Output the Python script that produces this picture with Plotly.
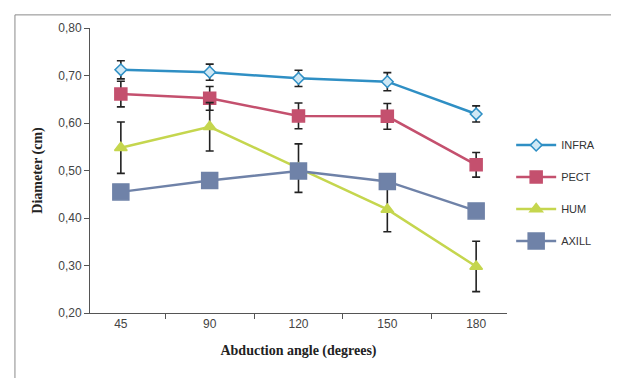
import plotly.graph_objects as go

angles = ["45", "90", "120", "150", "180"]
infra = [0.712, 0.707, 0.694, 0.687, 0.619]
infra_err = [0.019, 0.017, 0.017, 0.019, 0.017]
pect = [0.661, 0.652, 0.615, 0.614, 0.512]
pect_err = [0.027, 0.025, 0.027, 0.027, 0.026]
hum = [0.548, 0.592, 0.505, 0.418, 0.298]
hum_err = [0.054, 0.051, 0.051, 0.047, 0.053]
axill = [0.455, 0.479, 0.499, 0.477, 0.415]

fig = go.Figure()

def add(name, y, err, color, symbol, size, mfill, lw=2.5):
    fig.add_trace(go.Scatter(
        x=angles, y=y, name=name, mode="lines+markers",
        legendgroup=name,
        line=dict(color=color, width=lw),
        marker=dict(symbol=symbol, size=size, color=mfill, line=dict(color=color, width=1.5)),
        error_y=(dict(type="data", array=err, visible=True, color="#222222", thickness=1.6, width=4)
                 if err is not None else dict(visible=False)),
    ))

add("INFRA", infra, infra_err, "#2F8FC4", "diamond", 9, "#CFE8F5")
add("PECT", pect, pect_err, "#C4506E", "square", 12, "#C4506E")
add("HUM", hum, hum_err, "#C5D64E", "triangle-up", 11, "#C5D64E")
add("AXILL", axill, None, "#6F82A8", "square", 16, "#6F82A8")

fig.update_layout(
    width=619, height=378,
    margin=dict(l=82, r=120, t=20, b=73),
    paper_bgcolor="white", plot_bgcolor="white",
    separators=", ",
    showlegend=True,
    legend=dict(x=1.01, y=0.64, xanchor="left", yanchor="top",
                font=dict(family="Liberation Sans, Arial", size=11, color="#333333"),
                tracegroupgap=13, traceorder="grouped", itemwidth=40,
                bgcolor="rgba(0,0,0,0)"),
    xaxis=dict(type="category", showline=True, linecolor="#555555", linewidth=1,
               ticks="outside", tickson="boundaries", ticklen=5, tickcolor="#555555",
               showgrid=False, zeroline=False,
               tickfont=dict(family="Liberation Sans, Arial", size=12, color="#444444"),
               title=dict(text="<b>Abduction angle (degrees)</b>",
                          font=dict(family="Liberation Serif, DejaVu Serif", size=14, color="#222222"),
                          standoff=14)),
    yaxis=dict(range=[0.2, 0.8], dtick=0.1, tickformat=".2f", showline=True,
               linecolor="#555555", linewidth=1, ticks="outside", ticklen=5, tickcolor="#555555",
               showgrid=False, zeroline=False,
               tickfont=dict(family="Liberation Sans, Arial", size=12, color="#444444"),
               title=dict(text="<b>Diameter (cm)</b>",
                          font=dict(family="Liberation Serif, DejaVu Serif", size=14, color="#222222"),
                          standoff=12)),
)

fig.add_shape(type="rect", xref="paper", yref="paper",
              x0=-0.18, x1=1.283, y0=-0.251, y1=1.046,
              line=dict(color="#8A8A8A", width=1), fillcolor="rgba(0,0,0,0)")

fig.write_html("out.html")
